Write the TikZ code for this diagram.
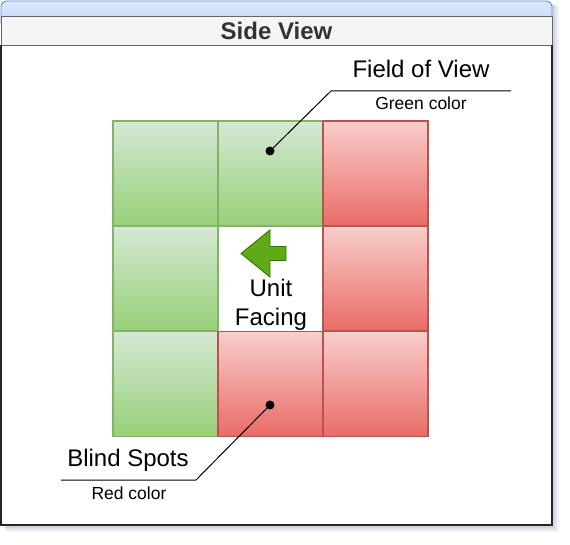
\documentclass[tikz,border=0pt]{standalone}
\usepackage{fontspec}
\setmainfont{Liberation Sans}
\definecolor{gtop}{HTML}{D5E8D4}
\definecolor{gbot}{HTML}{97D077}
\definecolor{gline}{HTML}{82B366}
\definecolor{rtop}{HTML}{F8CECC}
\definecolor{rbot}{HTML}{EA6B66}
\definecolor{rline}{HTML}{B85450}
\definecolor{arrfill}{HTML}{60A917}
\definecolor{arrline}{HTML}{2D7600}
\definecolor{btop}{HTML}{DAE8FC}
\definecolor{bbot}{HTML}{C3D7F3}
\definecolor{bline}{HTML}{6C8EBF}
\definecolor{ttl}{HTML}{F5F5F5}
\definecolor{shad}{HTML}{8A93B8}
\tikzset{
  cell/.style={minimum width=105pt, minimum height=105pt, inner sep=0pt},
  gcell/.style={cell, draw=gline, line width=1.1pt, top color=gtop, bottom color=gbot},
  rcell/.style={cell, draw=rline, line width=1.1pt, top color=rtop, bottom color=rbot},
  bigtext/.style={font=\fontsize{24}{28}\selectfont, inner sep=0pt},
  smalltext/.style={font=\fontsize{17.5}{21}\selectfont, inner sep=0pt},
  dot/.style={circle, fill=black, minimum size=9pt, inner sep=0pt},
  callout/.style={draw=black, line width=1pt}
}
\begin{document}
\begin{tikzpicture}[x=1pt,y=-1pt]
\useasboundingbox (0,0) rectangle (570,545);
% shadow
\fill[shad, opacity=0.12] (6,6) rectangle (559,532);
\fill[shad, opacity=0.15] (5,5) rectangle (557,530);
\fill[shad, opacity=0.2] (4,4) rectangle (555,528);
% window
\shade[top color=btop, bottom color=bbot, draw=bline, line width=0.9pt, rounded corners=6] (1,1) rectangle (552,28);
\fill[white] (1,45) rectangle (552,525);
\node[fill=ttl, draw=black!60, line width=0.9pt, minimum width=551pt, minimum height=29pt, inner sep=0pt,
  font=\bfseries\fontsize{24}{28}\selectfont, text=black!80] (title) at (276.5,30.5) {Side View};
\draw[black!85, line width=1.3pt] (1,45) -- (1,525) -- (552,525) -- (552,45);
% grid
\node[gcell] (c11) at (165.5,173.5) {};
\node[gcell] (c12) at (270.5,173.5) {};
\node[rcell] (c13) at (375.5,173.5) {};
\node[gcell] (c21) at (165.5,278.5) {};
\node[cell] (c22) at (270.5,278.5) {};
\node[rcell] (c23) at (375.5,278.5) {};
\node[gcell] (c31) at (165.5,384) {};
\node[rcell] (c32) at (270.5,384) {};
\node[rcell] (c33) at (375.5,384) {};
% facing arrow
\filldraw[fill=arrfill, draw=arrline, line width=0.9pt, line join=miter]
  (241,253.5) -- (270,230) -- (270,246.5) -- (286,246.5) -- (286,260.5) -- (270,260.5) -- (270,277) -- cycle;
\node[bigtext, align=center, font=\fontsize{24}{29}\selectfont] (facing) at (271,305) {Unit\\Facing};
% field of view callout
\node[dot] (fowdot) at (270,151) {};
\coordinate (fowbend) at (331,91);
\coordinate (fowend) at (511,91);
\draw[callout] (fowdot.center) -- (fowbend) -- (fowend);
\node[bigtext] (fow) at (421,69) {Field of View};
\node[smalltext] (green) at (421,103.5) {Green color};
% blind spots callout
\node[dot] (bsdot) at (270,405) {};
\coordinate (bsbend) at (196,480);
\coordinate (bsend) at (61,480);
\draw[callout] (bsdot.center) -- (bsbend) -- (bsend);
\node[bigtext] (bs) at (128,460) {Blind Spots};
\node[smalltext] (red) at (129,493.5) {Red color};
\end{tikzpicture}
\end{document}
